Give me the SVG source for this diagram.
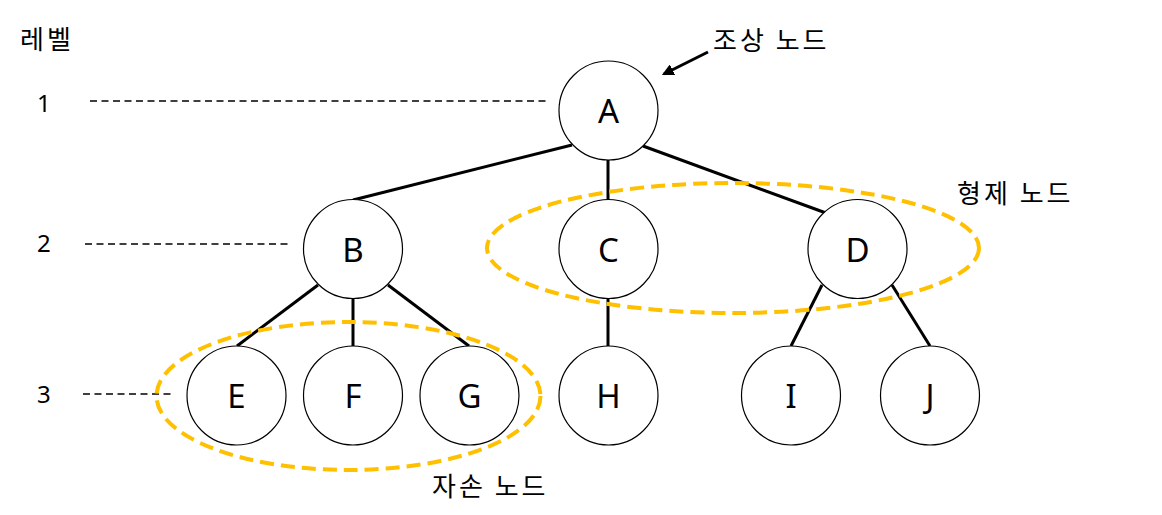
<svg xmlns="http://www.w3.org/2000/svg" width="1162" height="515" viewBox="0 0 1162 515">
<style>
.node circle{fill:#fff;stroke:#000;stroke-width:1.2}
.node text{font-family:"Noto Sans","Noto Sans CJK KR",sans-serif;font-size:33px;text-anchor:middle;fill:#000}
.edge{stroke:#000;stroke-width:3;fill:none}
.lvl{stroke:#000;stroke-width:1.5;stroke-dasharray:7 4.5;fill:none}
.grp{stroke:#FFC000;stroke-width:4;stroke-dasharray:14 7;fill:none}
.lbl{font-family:"Noto Sans CJK KR","Noto Sans",sans-serif;font-size:26px;letter-spacing:3px;fill:#000}
.num{font-family:"Noto Sans","Noto Sans CJK KR",sans-serif;font-size:24px;fill:#000}
</style>
<defs>
<marker id="ah" viewBox="0 0 10 10" refX="8" refY="5" markerWidth="4" markerHeight="4" orient="auto" markerUnits="strokeWidth">
<path d="M0,0 L10,5 L0,10 z" fill="#000"/>
</marker>
</defs>
<rect width="1162" height="515" fill="#fff"/>
<g id="connectors">
<line class="edge" x1="572" y1="145" x2="353" y2="200"/>
<line class="edge" x1="608" y1="160" x2="608" y2="200"/>
<line class="edge" x1="643" y1="146" x2="826" y2="213"/>
<line class="edge" x1="318" y1="285" x2="237" y2="346"/>
<line class="edge" x1="353" y1="298" x2="353" y2="346"/>
<line class="edge" x1="388" y1="285" x2="469" y2="346"/>
<line class="edge" x1="608" y1="298" x2="608" y2="346"/>
<line class="edge" x1="822" y1="285" x2="791" y2="346"/>
<line class="edge" x1="892" y1="285" x2="930" y2="346"/>
<line class="edge" x1="708" y1="52" x2="664" y2="74" stroke-width="3" marker-end="url(#ah)"/>
</g>
<g id="levels">
<text class="lbl" x="20" y="49">레벨</text>
<text class="num" x="37" y="112">1</text>
<text class="num" x="37" y="252">2</text>
<text class="num" x="37" y="403">3</text>
<line class="lvl" x1="90" y1="101" x2="548" y2="101"/>
<line class="lvl" x1="85" y1="244" x2="288" y2="244"/>
<line class="lvl" x1="83" y1="394" x2="174" y2="394"/>
</g>
<g id="A" class="node"><circle cx="608.5" cy="110.5" r="49.5"/><text x="608.5" y="123">A</text></g>
<g id="B" class="node"><circle cx="353" cy="249" r="49.5"/><text x="353" y="262">B</text></g>
<g id="C" class="node"><circle cx="608.5" cy="249" r="49.5"/><text x="608.5" y="262">C</text></g>
<g id="D" class="node"><circle cx="857.5" cy="249" r="49.5"/><text x="857.5" y="262">D</text></g>
<g id="E" class="node"><circle cx="236.5" cy="395.5" r="49.5"/><text x="236.5" y="408">E</text></g>
<g id="F" class="node"><circle cx="353" cy="395.5" r="49.5"/><text x="353" y="408">F</text></g>
<g id="G" class="node"><circle cx="469.5" cy="395.5" r="49.5"/><text x="469.5" y="408">G</text></g>
<g id="H" class="node"><circle cx="608.5" cy="395.5" r="49.5"/><text x="608.5" y="408">H</text></g>
<g id="I" class="node"><circle cx="791" cy="395.5" r="49.5"/><text x="791" y="408">I</text></g>
<g id="J" class="node"><circle cx="930" cy="395.5" r="49.5"/><text x="930" y="408">J</text></g>
<g id="groups">
<ellipse class="grp" cx="733" cy="248" rx="246" ry="65"/>
<ellipse class="grp" cx="348.5" cy="396" rx="192" ry="74"/>
</g>
<g id="labels">
<text class="lbl" x="713" y="50">조상 노드</text>
<text class="lbl" x="957" y="203">형제 노드</text>
<text class="lbl" x="432" y="496">자손 노드</text>
</g>
</svg>
